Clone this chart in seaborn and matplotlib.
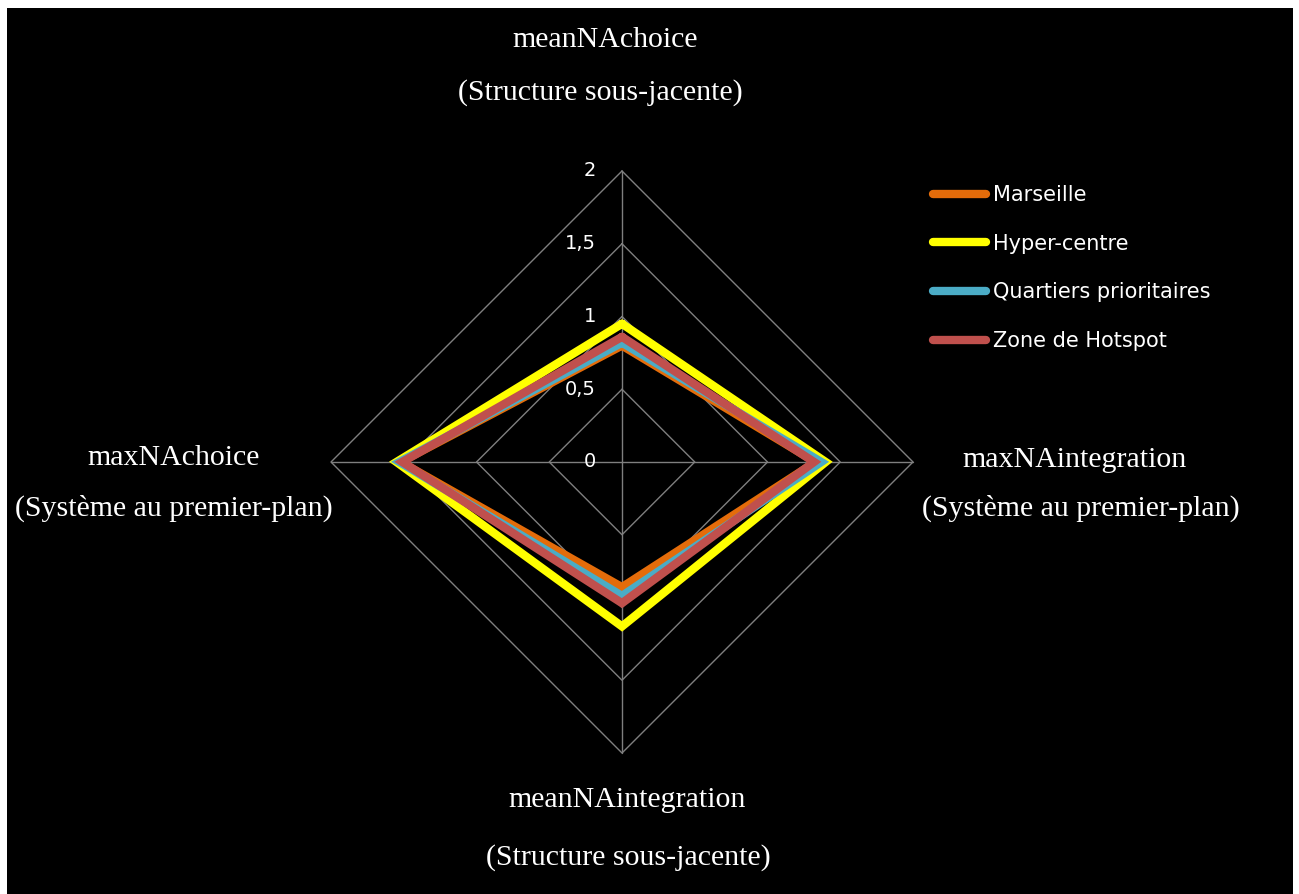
import matplotlib
matplotlib.use("Agg")
import matplotlib.pyplot as plt
import seaborn as sns
import numpy as np
import pandas as pd

# Axes of the radar, clockwise from the top
axes_names = ["meanNAchoice", "maxNAintegration", "meanNAintegration", "maxNAchoice"]
axes_subtitles = ["(Structure sous-jacente)", "(Système au premier-plan)",
                  "(Structure sous-jacente)", "(Système au premier-plan)"]
tick_values = [0, 0.5, 1, 1.5, 2]
tick_labels = ["0", "0,5", "1", "1,5", "2"]

series_names = ["Marseille", "Hyper-centre", "Quartiers prioritaires", "Zone de Hotspot"]
marseille = [0.80, 1.33, 0.86, 1.52]
hyper_centre = [0.95, 1.40, 1.13, 1.55]
quartiers = [0.82, 1.37, 0.92, 1.53]
hotspot = [0.86, 1.32, 0.97, 1.51]
series_colors = ["#E46C0A", "#FFFF00", "#4BACC6", "#C0504D"]

angles = np.deg2rad([90, 0, 270, 180])

sns.set_style("dark")
plt.rcParams["font.family"] = ["DejaVu Sans"]

W, H = 1299, 894
fig = plt.figure(figsize=(W / 100, H / 100), dpi=100, facecolor="white")
# black panel with a thin white margin left/top/right
fig.patches.append(plt.Rectangle((7 / W, 0), (1293 - 7) / W, 1 - 8 / H,
                                 transform=fig.transFigure, facecolor="black",
                                 edgecolor="none", zorder=-10))

ax = fig.add_axes([0, 0, 1, 1])
ax.set_facecolor("none")
ax.patch.set_alpha(0)
scale = 145.5  # pixels per unit
cx, cy = 622, 462
ax.set_xlim(-cx / scale, (W - cx) / scale)
ax.set_ylim(-(H - cy) / scale, cy / scale)
ax.set_aspect("equal")
ax.axis("off")

grid_color = "#7f7f7f"
# polygon grid
for v in tick_values[1:]:
    gx = np.append(v * np.cos(angles), v * np.cos(angles[0]))
    gy = np.append(v * np.sin(angles), v * np.sin(angles[0]))
    ax.plot(gx, gy, color=grid_color, lw=1.0, zorder=1)
# spokes
rmax = tick_values[-1]
for a in angles:
    ax.plot([0, rmax * np.cos(a)], [0, rmax * np.sin(a)], color=grid_color, lw=1.0, zorder=1)

# tick labels along the top spoke
for v, lab in zip(tick_values, tick_labels):
    ax.text(-0.18, v, lab, color="white", fontsize=14, ha="right", va="center")

# series
rows = []
for name, vals in zip(series_names, [marseille, hyper_centre, quartiers, hotspot]):
    closed = list(vals) + [vals[0]]
    ang = list(angles) + [angles[0]]
    for i, (v, a) in enumerate(zip(closed, ang)):
        rows.append({"series": name, "order": i, "x": v * np.cos(a), "y": v * np.sin(a)})
df = pd.DataFrame(rows)

for k, (name, color) in enumerate(zip(series_names, series_colors)):
    sub = df[df["series"] == name]
    sns.lineplot(data=sub, x="x", y="y", sort=False, ax=ax, color=color, lw=6,
                 label=name, zorder=3 + k, solid_joinstyle="miter",
                 solid_capstyle="round", estimator=None)

# axis labels (two lines each)
label_pos = [  # (x px, y px title, x px subtitle, y px subtitle)
    (605, 40, 600, 93),
    (1074, 460, 1081, 508),
    (627, 800, 628, 858),
    (174, 458, 174, 508),
]
for name, sub, (x1, y1, x2, y2) in zip(axes_names, axes_subtitles, label_pos):
    ax.text((x1 - cx) / scale, (cy - y1) / scale, name, family="Liberation Serif",
            fontsize=21.5, color="white", ha="center", va="center")
    ax.text((x2 - cx) / scale, (cy - y2) / scale, sub, family="Liberation Serif",
            fontsize=21.5, color="white", ha="center", va="center")

leg = ax.legend(loc="upper left", bbox_to_anchor=(933 / W, 1 - 185 / H),
                bbox_transform=fig.transFigure, frameon=False, fontsize=15,
                handlelength=2.55, handletextpad=0.35, labelspacing=1.38,
                borderaxespad=0, borderpad=0)
for txt in leg.get_texts():
    txt.set_color("white")
for h in leg.get_lines():
    h.set_linewidth(6)
    h.set_solid_capstyle("round")

fig.savefig("out.png", dpi=100, facecolor=fig.get_facecolor())
